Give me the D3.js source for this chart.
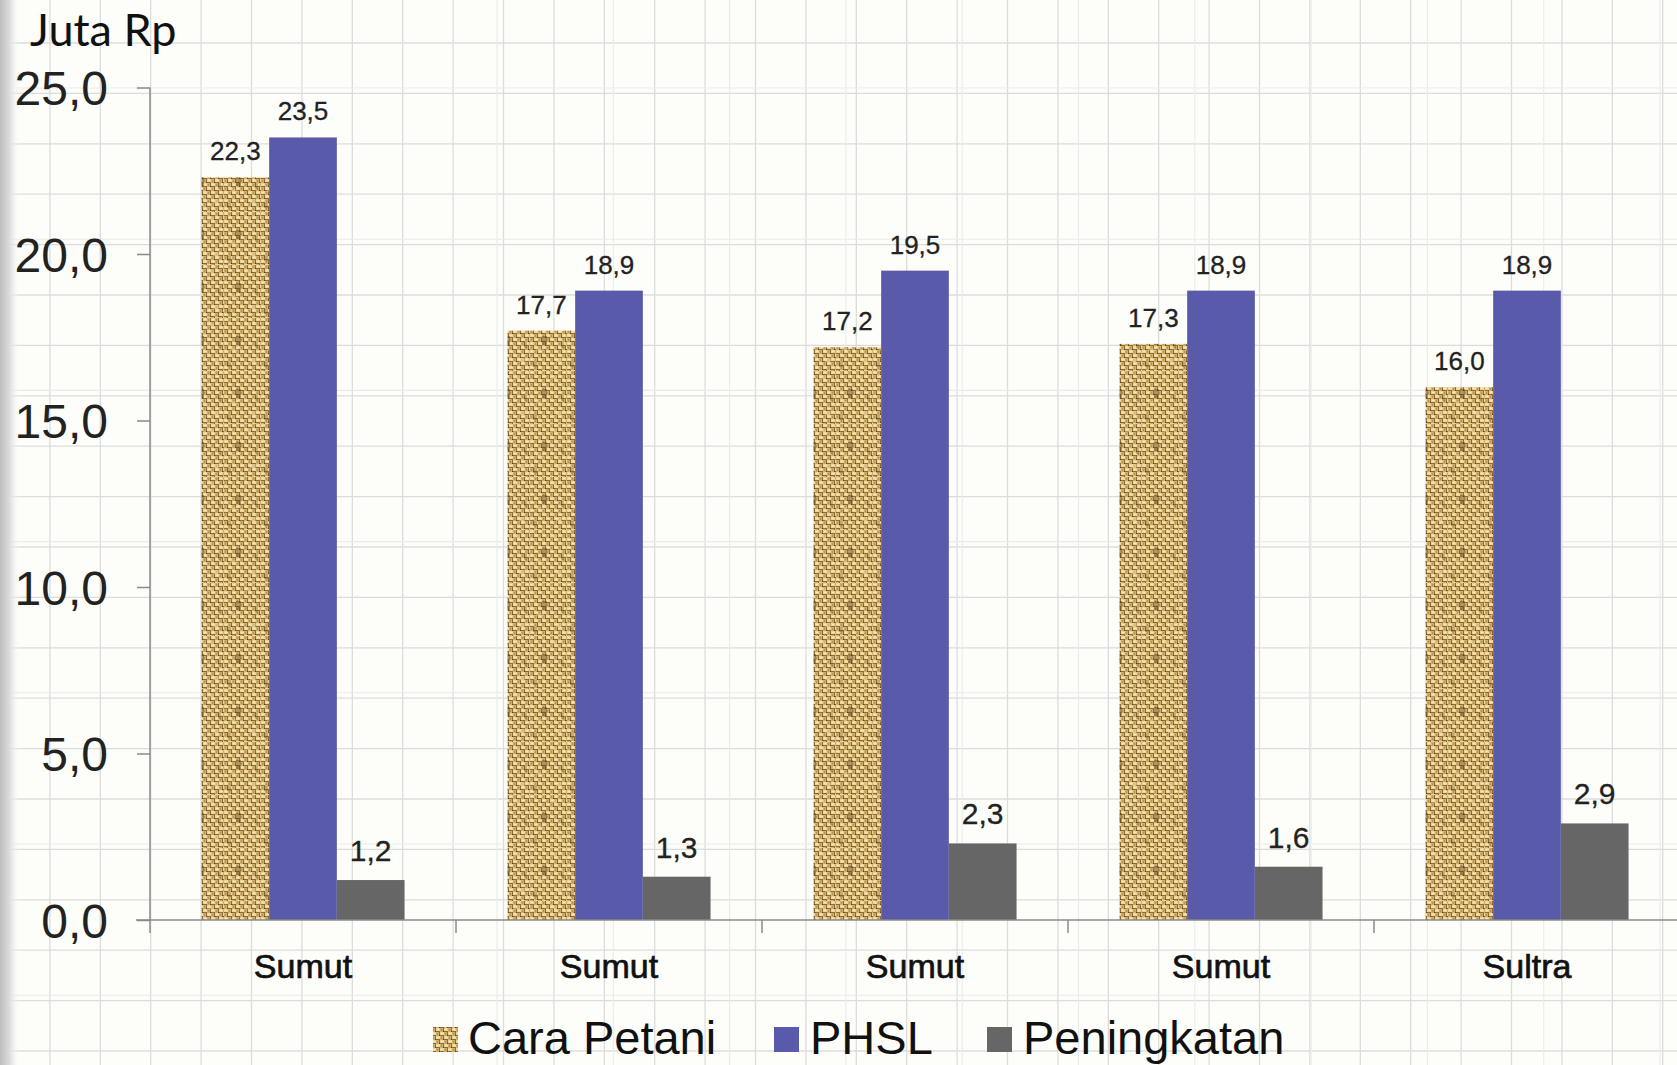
<!DOCTYPE html>
<html>
<head>
<meta charset="utf-8">
<script src="https://cdn.jsdelivr.net/npm/d3@7"></script>
<style>
  html, body { margin: 0; padding: 0; background: #fdfdf9; overflow: hidden; }
  svg { display: block; }
</style>
</head>
<body>
<svg id="chart" width="1677" height="1065"></svg>
<script>
// ---- Data ----
const categories = ["Sumut", "Sumut", "Sumut", "Sumut", "Sultra"];
const seriesNames = ["Cara Petani", "PHSL", "Peningkatan"];
const caraPetani = [22.3, 17.7, 17.2, 17.3, 16.0];
const phsl = [23.5, 18.9, 19.5, 18.9, 18.9];
const peningkatan = [1.2, 1.3, 2.3, 1.6, 2.9];
const yTicks = [0, 5, 10, 15, 20, 25];
const unitLabel = "Juta Rp";

const seriesValues = [caraPetani, phsl, peningkatan];

// ---- Setup ----
const W = 1677, H = 1065;
const svg = d3.select("#chart");
const defs = svg.append("defs");

// left edge shading gradient
const lg = defs.append("linearGradient").attr("id", "edge").attr("x1", "0").attr("x2", "1");
lg.append("stop").attr("offset", "0").attr("stop-color", "#bdbdbd");
lg.append("stop").attr("offset", "0.5").attr("stop-color", "#dedede");
lg.append("stop").attr("offset", "1").attr("stop-color", "#fdfdf9").attr("stop-opacity", 0);

// burlap texture pattern (woven)
const pat = defs.append("pattern").attr("id", "burlap")
  .attr("patternUnits", "userSpaceOnUse").attr("width", 8).attr("height", 8);
pat.append("rect").attr("width", 8).attr("height", 8).attr("fill", "#8e6c36");
[[0,0,4,3,"#ecd49a"],[4,4,4,3,"#ecd49a"],[4,0,3,4,"#cfae6c"],[0,4,3,4,"#cfae6c"],
 [1,1,2,1,"#f7e6b6"],[5,5,2,1,"#f7e6b6"],[5,1,1,2,"#b8934f"],[1,5,1,2,"#b8934f"],
 [7,3,1,1,"#5c4119"],[3,7,1,1,"#5c4119"]].forEach(r => {
  pat.append("rect").attr("x", r[0]).attr("y", r[1]).attr("width", r[2]).attr("height", r[3]).attr("fill", r[4]);
});
// larger scale blotches
const pat2 = defs.append("pattern").attr("id", "burlap2")
  .attr("patternUnits", "userSpaceOnUse").attr("width", 37).attr("height", 53);
pat2.append("rect").attr("width", 37).attr("height", 53).attr("fill", "url(#burlap)");
[[12,18,5,9,"#5e4218",0.45],[26,40,6,4,"#f5e3ad",0.45],[3,44,4,5,"#6a4c1e",0.35],
 [20,5,7,3,"#f2dea6",0.4],[31,24,3,6,"#6a4c1e",0.3],[6,30,8,3,"#e9d092",0.35]].forEach(r => {
  pat2.append("rect").attr("x", r[0]).attr("y", r[1]).attr("width", r[2]).attr("height", r[3])
    .attr("fill", r[4]).attr("opacity", r[5]);
});

// background
svg.append("rect").attr("width", W).attr("height", H).attr("fill", "#fdfdf9");

// background graph-paper grid
const gridG = svg.append("g").attr("stroke", "#dcdcdc").attr("stroke-width", 1.3);
const gStep = 50.4;
for (let x = 49.9; x < W; x += gStep) {
  gridG.append("line").attr("x1", x).attr("x2", x).attr("y1", 0).attr("y2", H);
}
for (let y = 43 - gStep; y < H; y += gStep) {
  if (y < 0) continue;
  gridG.append("line").attr("x1", 0).attr("x2", W).attr("y1", y).attr("y2", y);
}
// faint secondary lines
const grid2 = svg.append("g").attr("stroke", "#ebebeb").attr("stroke-width", 1.1);
for (let x = 497; x < W; x += 116.3) {
  grid2.append("line").attr("x1", x).attr("x2", x).attr("y1", 0).attr("y2", H);
}
for (let y = 88; y < H; y += 151.2) {
  grid2.append("line").attr("x1", 0).attr("x2", W).attr("y1", y).attr("y2", y);
}

svg.append("rect").attr("x", 0).attr("y", 0).attr("width", 20).attr("height", H).attr("fill", "url(#edge)");

// ---- Scales ----
const x0 = d3.scaleBand().domain(d3.range(categories.length)).range([150, 1680]).paddingInner(0).paddingOuter(0);
const x1 = d3.scaleBand().domain(seriesNames).range([0, x0.bandwidth()]).paddingInner(0).paddingOuter(0.76);
const y = d3.scaleLinear().domain([0, 25]).range([920, 87.5]);

const fills = { "Cara Petani": "url(#burlap2)", "PHSL": "#5a5aab", "Peningkatan": "#666666" };

// ---- Bars ----
const groups = svg.append("g").selectAll("g").data(categories).join("g")
  .attr("transform", (d, i) => `translate(${x0(i)},0)`);

groups.each(function(cat, i) {
  const g = d3.select(this);
  seriesNames.forEach((s, si) => {
    const v = seriesValues[si][i];
    g.append("rect")
      .attr("x", x1(s)).attr("width", x1.bandwidth())
      .attr("y", y(v)).attr("height", y(0) - y(v))
      .attr("fill", fills[s]);
    const big = s === "Peningkatan";
    g.append("text")
      .attr("x", x1(s) + x1.bandwidth() / 2)
      .attr("y", y(v) - (big ? 19 : 17))
      .attr("text-anchor", "middle")
      .attr("font-family", "Liberation Sans, Arial, sans-serif")
      .attr("font-size", big ? 30 : 26)
      .attr("fill", "#222")
      .attr("stroke", "#222").attr("stroke-width", 0.3)
      .text(d3.format(".1f")(v).replace(".", ","));
  });
});

// ---- Axes ----
const yAxis = d3.axisLeft(y).tickValues(yTicks).tickSize(13).tickPadding(29)
  .tickFormat(d => d3.format(".1f")(d).replace(".", ","));
const yG = svg.append("g").attr("transform", "translate(150,0)").call(yAxis);
yG.select(".domain").attr("stroke", "#8a8a8a").attr("stroke-width", 1.5).attr("d", "M0,87.5V920");
yG.selectAll(".tick line").attr("stroke", "#8a8a8a").attr("stroke-width", 1.5);
yG.selectAll(".tick text")
  .attr("font-family", "Liberation Sans, Arial, sans-serif")
  .attr("font-size", 48).attr("fill", "#222").attr("dy", "0.36em");

// x axis baseline & ticks
const xG = svg.append("g");
xG.append("line").attr("x1", 136).attr("x2", W).attr("y1", y(0)).attr("y2", y(0))
  .attr("stroke", "#8a8a8a").attr("stroke-width", 1.5);
d3.range(categories.length + 1).forEach(i => {
  const xx = i < categories.length ? x0(i) : x0(categories.length - 1) + x0.bandwidth();
  xG.append("line").attr("x1", xx).attr("x2", xx).attr("y1", y(0)).attr("y2", y(0) + 13)
    .attr("stroke", "#8a8a8a").attr("stroke-width", 1.5);
});
categories.forEach((c, i) => {
  xG.append("text")
    .attr("x", x0(i) + x0.bandwidth() / 2).attr("y", 978)
    .attr("text-anchor", "middle")
    .attr("font-family", "Liberation Sans, Arial, sans-serif")
    .attr("font-size", 34).attr("fill", "#111")
    .attr("stroke", "#111").attr("stroke-width", 0.7)
    .text(c);
});

// unit label
svg.append("text").attr("x", 30).attr("y", 46)
  .attr("font-family", "Lato, Open Sans, sans-serif")
  .attr("font-size", 45).attr("fill", "#111")
  .text(unitLabel);

// ---- Legend ----
const legendPos = [
  { mx: 433, tx: 468 },
  { mx: 774, tx: 810 },
  { mx: 987, tx: 1023 }
];
const leg = svg.append("g");
seriesNames.forEach((s, i) => {
  leg.append("rect").attr("x", legendPos[i].mx).attr("y", 1027).attr("width", 25).attr("height", 25)
    .attr("fill", fills[s] === "url(#burlap2)" ? "url(#burlap)" : fills[s]);
  leg.append("text").attr("x", legendPos[i].tx).attr("y", 1054)
    .attr("font-family", "Liberation Sans, Arial, sans-serif")
    .attr("font-size", 47).attr("fill", "#111")
    .text(s);
});
</script>
</body>
</html>
